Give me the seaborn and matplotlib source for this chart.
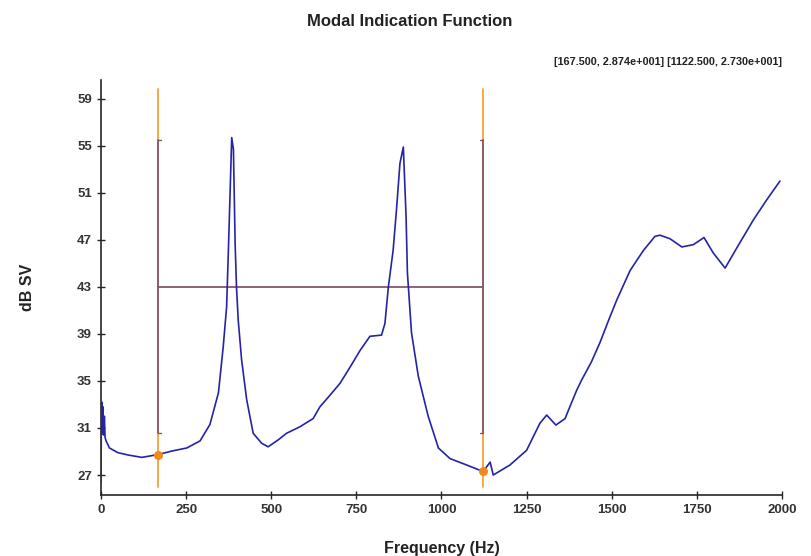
import matplotlib
matplotlib.use('Agg')
import matplotlib.pyplot as plt
import pandas as pd
import seaborn as sns

# MIF curve
freq = [0, 1, 3, 4, 6, 8, 10, 12, 15, 25, 50, 80, 120, 167.5, 210, 252, 291, 320,
        345, 359, 369, 374, 379, 384, 389, 394, 398, 403, 413, 428, 447, 472, 491,
        521, 545, 584, 623, 643, 670, 702, 730, 761, 790, 824, 834, 844, 858, 868,
        878, 888, 896, 900, 912, 932, 961, 991, 1025, 1074, 1122.5, 1143, 1152,
        1201, 1250, 1289, 1309, 1336, 1363, 1377, 1397, 1412, 1440, 1466, 1490,
        1515, 1554, 1593, 1627, 1642, 1671, 1706, 1740, 1771, 1798, 1833, 1867,
        1916, 1955, 1994]
db_sv = [26.4, 31.0, 33.2, 30.5, 32.8, 30.4, 32.0, 30.2, 29.9, 29.3, 28.9, 28.7, 28.5,
         28.74, 29.05, 29.3, 29.9, 31.3, 34.0, 37.9, 41.3, 45.9, 50.8, 55.7, 54.7,
         46.7, 43.0, 40.2, 36.8, 33.4, 30.55, 29.7, 29.4, 30.0, 30.55, 31.1, 31.8,
         32.8, 33.7, 34.8, 36.1, 37.6, 38.8, 38.9, 39.9, 43.0, 46.1, 49.6, 53.5,
         54.9, 49.0, 44.2, 39.1, 35.4, 32.0, 29.3, 28.4, 27.85, 27.30, 28.1, 27.0,
         27.85, 29.1, 31.4, 32.1, 31.25, 31.8, 32.8, 34.2, 35.1, 36.6, 38.3, 40.1,
         41.9, 44.4, 46.1, 47.3, 47.4, 47.1, 46.4, 46.6, 47.2, 45.9, 44.6, 46.3,
         48.7, 50.4, 52.0]

cursor_x = [167.5, 1122.5]
cursor_y = [28.74, 27.30]
band_top = 55.5
band_bottom = 30.6
band_level = 43.0

df = pd.DataFrame({'freq': freq, 'db': db_sv})

sns.set_style('ticks')
plt.rcParams['font.family'] = ['Liberation Sans', 'DejaVu Sans']
plt.rcParams['font.weight'] = 'bold'

fig = plt.figure(figsize=(8.11, 5.56), dpi=100)
ax = fig.add_axes([0.1245, 0.1097, 0.8397, 0.7464])

orange = '#f4a338'
brown = '#86566a'

# cursors
for cx in cursor_x:
    ax.plot([cx, cx], [26.0, 59.8], color=orange, lw=1.3, zorder=1)
    ax.plot([cx, cx], [band_bottom, band_top], color=brown, lw=1.3, zorder=2)
ax.plot([cursor_x[0], cursor_x[0] + 10], [band_top, band_top], color=brown, lw=1)
ax.plot([cursor_x[0], cursor_x[0] + 10], [band_bottom, band_bottom], color=brown, lw=1)
ax.plot([cursor_x[1] - 10, cursor_x[1]], [band_top, band_top], color=brown, lw=1)
ax.plot([cursor_x[1] - 10, cursor_x[1]], [band_bottom, band_bottom], color=brown, lw=1)
ax.plot(cursor_x, [band_level, band_level], color=brown, lw=1.3, zorder=2)

sns.lineplot(data=df, x='freq', y='db', sort=False, estimator=None,
             color='#2424a8', lw=1.2, ax=ax, zorder=3)
ax.scatter(cursor_x, cursor_y, color='#f08a1c', s=30, zorder=4)

ax.set_xlim(0, 2000)
ax.set_ylim(25.3, 60.6)
ax.set_xticks(range(0, 2001, 250))
ax.set_yticks(range(27, 60, 4))
ax.tick_params(direction='inout', length=6, width=1, labelsize=9.5)
for lab in ax.get_xticklabels() + ax.get_yticklabels():
    lab.set_fontweight('bold')
    lab.set_color('#333333')
sns.despine(ax=ax)
ax.spines['left'].set_linewidth(1.2)
ax.spines['bottom'].set_linewidth(1.2)

ax.set_xlabel('Frequency (Hz)', fontsize=11.5, fontweight='bold', color='#222222', labelpad=18)
ax.set_ylabel('dB SV', fontsize=11.5, fontweight='bold', color='#222222', labelpad=30)
fig.text(0.505, 0.962, 'Modal Indication Function', ha='center', va='center',
         fontsize=12, fontweight='bold', color='#222222')
fig.text(0.964, 0.888, '[167.500, 2.874e+001] [1122.500, 2.730e+001]', ha='right',
         va='center', fontsize=7.8, fontweight='bold', color='#222222')

fig.savefig('out.png', dpi=100)
